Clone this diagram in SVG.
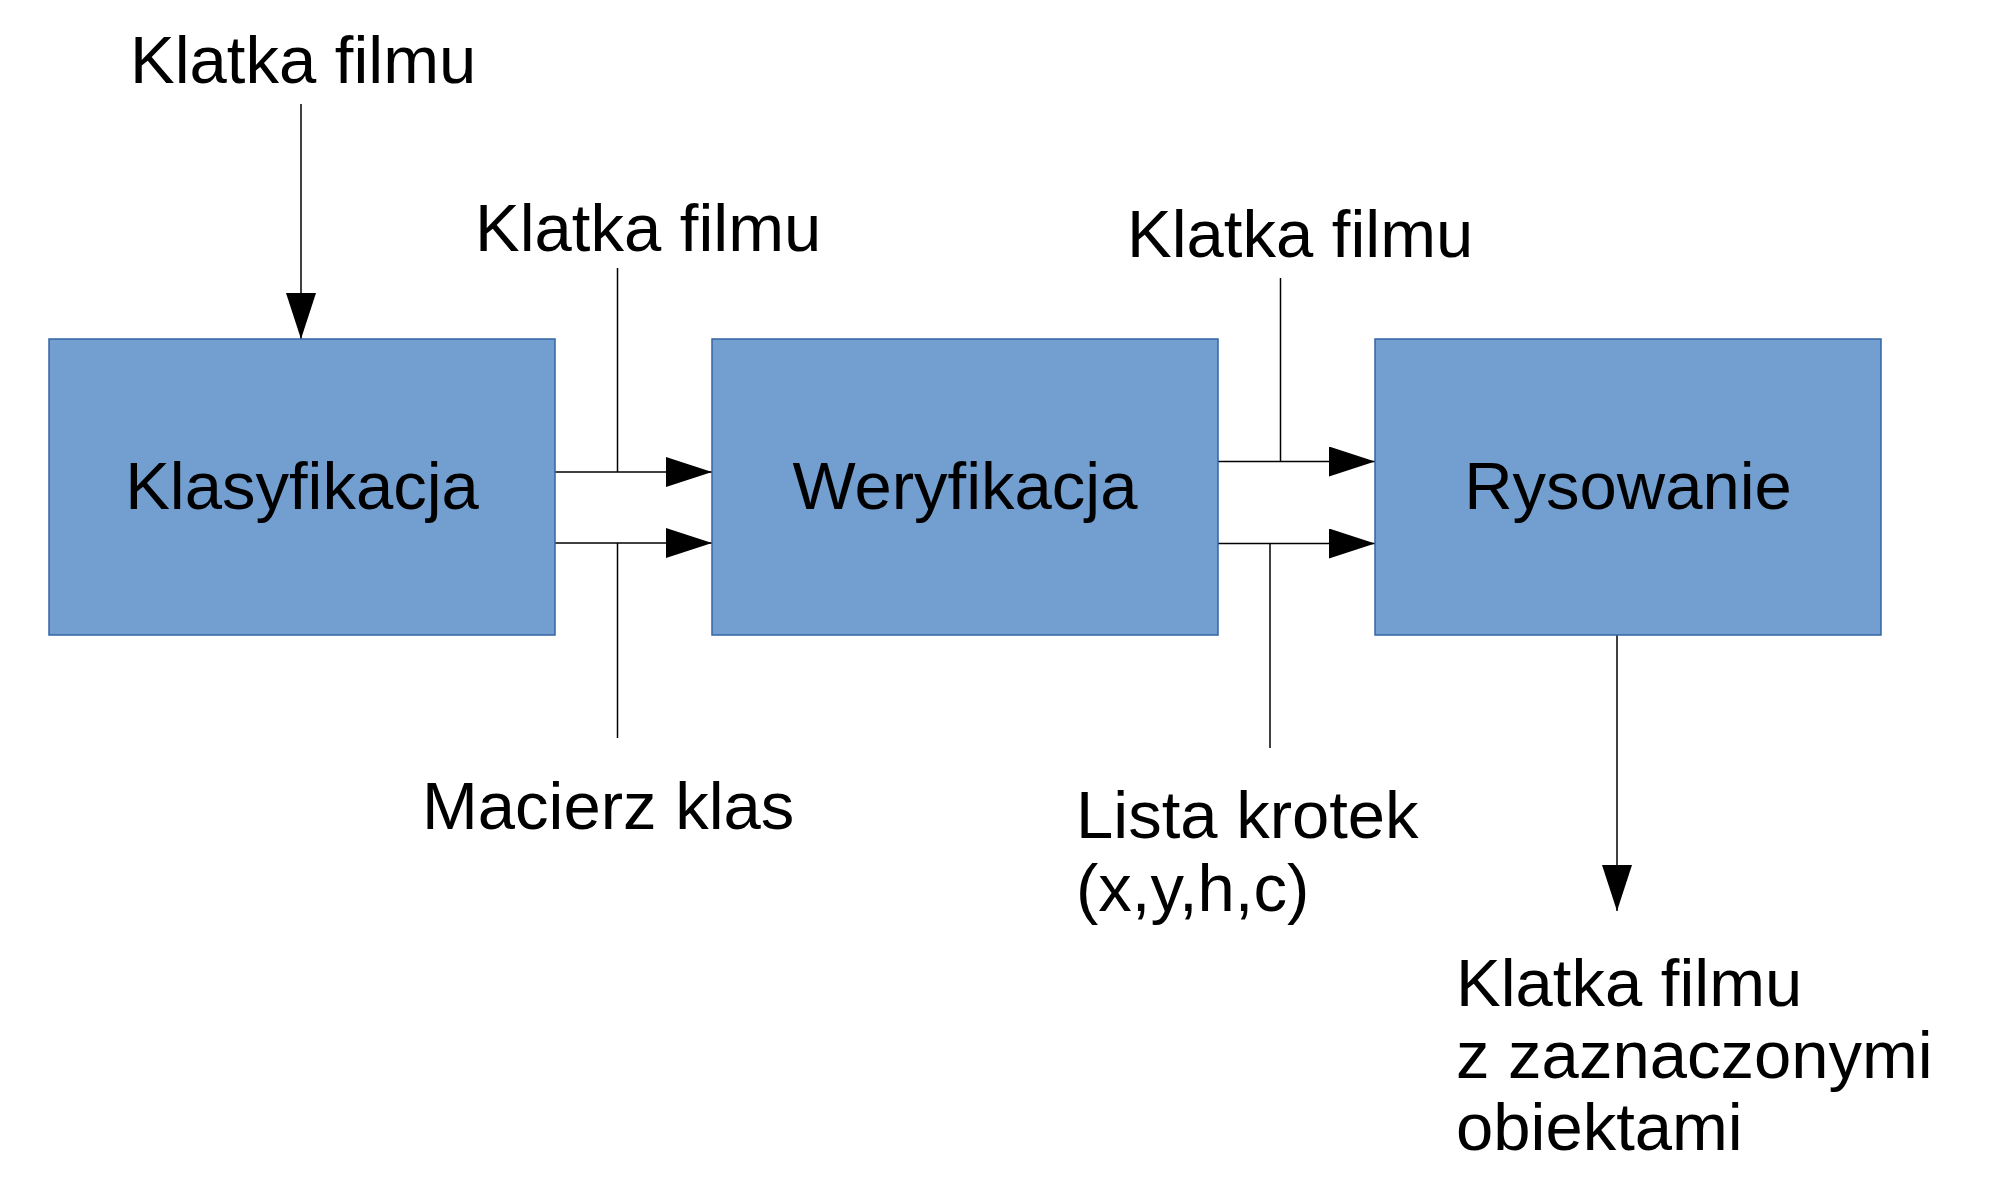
<svg xmlns="http://www.w3.org/2000/svg" width="2000" height="1186" viewBox="0 0 2000 1186">
<style>
.box{fill:#729fcf;stroke:#3465a4;stroke-width:1.5}
.t{font-family:"Liberation Sans",Arial,sans-serif;font-size:67px;fill:#000;font-variant-ligatures:none}
.c{text-anchor:middle}
.ln{stroke:#000;stroke-width:1.5;fill:none}
.ar{marker-end:url(#ah)}
</style>
<defs>
<marker id="ah" markerUnits="userSpaceOnUse" markerWidth="46" markerHeight="30" refX="46" refY="15" orient="auto" viewBox="0 0 46 30">
<path d="M0,0 L46,15 L0,30 z" fill="#000"/>
</marker>
</defs>
<rect width="2000" height="1186" fill="#fff"/>
<g id="connectors">
<line class="ln ar" x1="301" y1="104" x2="301" y2="339"/>
<line class="ln" x1="617.5" y1="268" x2="617.5" y2="472"/>
<line class="ln ar" x1="555" y1="472" x2="712" y2="472"/>
<line class="ln ar" x1="555" y1="543" x2="712" y2="543"/>
<line class="ln" x1="617.5" y1="543" x2="617.5" y2="738"/>
<line class="ln" x1="1280.5" y1="278" x2="1280.5" y2="461.5"/>
<line class="ln ar" x1="1218" y1="461.5" x2="1375" y2="461.5"/>
<line class="ln ar" x1="1218" y1="543.5" x2="1375" y2="543.5"/>
<line class="ln" x1="1270" y1="543.5" x2="1270" y2="748"/>
<line class="ln ar" x1="1617" y1="635" x2="1617" y2="911"/>
</g>
<g id="klasyfikacja">
<rect class="box" x="49" y="339" width="506" height="296"/>
<text class="t c" x="302" y="509">Klasyfikacja</text>
</g>
<g id="weryfikacja">
<rect class="box" x="712" y="339" width="506" height="296"/>
<text class="t c" x="965" y="509">Weryfikacja</text>
</g>
<g id="rysowanie">
<rect class="box" x="1375" y="339" width="506" height="296"/>
<text class="t c" x="1628" y="509">Rysowanie</text>
</g>
<g id="labels">
<text class="t" x="130" y="83">Klatka filmu</text>
<text class="t" x="475" y="251">Klatka filmu</text>
<text class="t" x="1127" y="257">Klatka filmu</text>
<text class="t" x="422" y="829">Macierz klas</text>
<text class="t" x="1076" y="838">Lista krotek</text>
<text class="t" x="1076" y="911">(x,y,h,c)</text>
<text class="t" x="1456" y="1006">Klatka filmu</text>
<text class="t" x="1456" y="1078">z zaznaczonymi</text>
<text class="t" x="1456" y="1150">obiektami</text>
</g>
</svg>
